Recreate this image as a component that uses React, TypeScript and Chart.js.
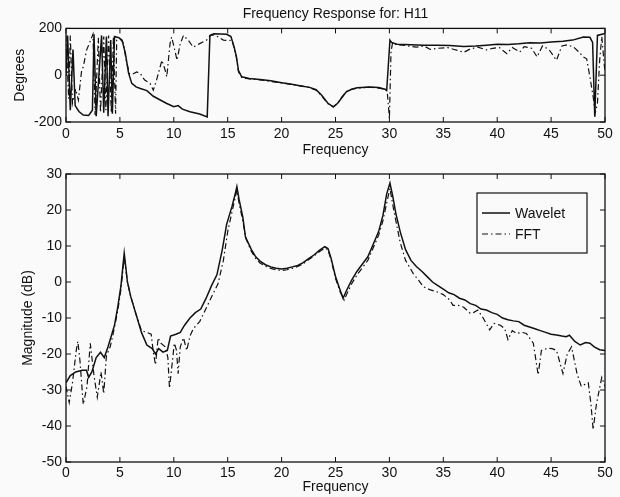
import React, { useEffect, useRef } from "react";
import { Chart, registerables } from "chart.js";

Chart.register(...registerables);

// ---------- data ----------
const chartTitle = "Frequency Response for: H11";
const xLabel = "Frequency";
const phaseLabel = "Degrees";
const magLabel = "Magnitude (dB)";
const seriesNames = ["Wavelet", "FFT"];

const freqRange = [0, 50];
const freqStep = 5;
const phaseRange = [-200, 200];
const phaseStep = 200;
const magRange = [-50, 30];
const magStep = 10;

// [frequency, dB]
const waveletMag: [number, number][] = [
  [0, -28], [0.4, -26], [0.9, -25], [1.5, -24.5], [1.9, -24.5], [2.1, -26.5], [2.4, -25],
  [2.8, -21], [3.2, -19.5], [3.55, -21], [3.9, -18], [4.2, -15], [4.5, -12], [4.8, -7],
  [5.1, -1], [5.4, 8], [5.7, 0], [6.0, -4], [6.5, -9], [7.0, -14], [7.5, -17.5], [8.0, -18.5],
  [8.3, -20], [8.6, -18.5], [9.0, -19.5], [9.4, -19], [9.7, -15], [10.2, -14.5], [10.6, -14],
  [11.0, -12], [11.5, -10], [12.0, -8.5], [12.5, -7.5], [13.0, -4.5], [13.5, -1], [14.0, 2],
  [14.5, 9], [14.9, 16], [15.4, 21], [15.7, 24.5], [15.85, 26.5], [16.05, 23], [16.4, 18],
  [16.65, 12.5], [17.2, 9], [17.6, 7], [18.0, 5.8], [18.5, 4.8], [19.0, 4.2], [19.5, 3.8],
  [20.0, 3.6], [20.5, 3.8], [21.0, 4.2], [21.5, 4.6], [22.0, 5.4], [22.5, 6.5], [23.0, 7.5],
  [23.5, 8.8], [24.0, 9.8], [24.3, 9.3], [24.6, 6.5], [25.0, 1.5], [25.4, -2], [25.7, -4.5],
  [26.0, -2.5], [26.5, 0.5], [27.0, 3], [27.5, 5], [28.0, 7], [28.5, 10.5], [29.0, 14],
  [29.4, 18.5], [29.75, 24.5], [30.05, 27.5], [30.3, 24], [30.6, 19], [31.0, 14], [31.5, 9],
  [32.0, 6], [32.5, 4.3], [33.0, 3], [33.5, 1.5], [34.0, 0], [34.5, -1], [35.0, -2],
  [35.5, -3], [36.0, -3.5], [36.5, -4.5], [37.0, -5], [37.5, -6], [38.0, -6.5], [38.5, -7.5],
  [39.0, -7.8], [39.5, -8.5], [40.0, -9], [40.5, -10], [41.0, -10.5], [41.5, -10.8],
  [42.0, -11], [42.5, -12], [43.0, -12.5], [43.5, -13], [44.0, -13.5], [44.5, -14],
  [45.0, -14.5], [45.5, -14.7], [46.0, -15], [46.4, -15.2], [46.7, -14.8], [47.2, -16.5],
  [47.7, -17.5], [48.2, -16.8], [48.6, -17], [49.0, -18], [49.5, -18.8], [50.0, -19],
];

const fftMag: [number, number][] = [
  [0, -29], [0.3, -33.5], [0.6, -28], [0.95, -19], [1.1, -16.5], [1.3, -22], [1.6, -34],
  [1.95, -29], [2.25, -17], [2.6, -26], [2.9, -32], [3.25, -25], [3.5, -31], [3.75, -20.5],
  [4.1, -18], [4.4, -14], [4.8, -8], [5.1, -2], [5.4, 7], [5.7, 0], [6.0, -4], [6.5, -9],
  [7.0, -13.5], [7.5, -14], [7.9, -14.5], [8.1, -19.5], [8.3, -23], [8.55, -15.5],
  [8.8, -17], [9.2, -18], [9.45, -21], [9.6, -29.5], [9.8, -24], [10.05, -17], [10.25, -19],
  [10.4, -25.5], [10.6, -18], [10.9, -15.5], [11.2, -19], [11.5, -15], [11.8, -13],
  [12.4, -11], [13.05, -7], [13.6, -3.5], [14.1, -0.5], [14.6, 6], [15.0, 14], [15.4, 19.5],
  [15.7, 23.5], [15.85, 25.5], [16.05, 22], [16.4, 17], [16.7, 12], [17.2, 8.5], [17.6, 6.5],
  [18.0, 5.3], [18.5, 4.4], [19.0, 3.8], [19.5, 3.4], [20.0, 3.2], [20.5, 3.4], [21.0, 3.8],
  [21.5, 4.3], [22.0, 5], [22.5, 6.2], [23.0, 7.2], [23.5, 8.4], [24.0, 9.4], [24.3, 9],
  [24.6, 6], [25.0, 1], [25.4, -2.5], [25.8, -5], [26.1, -3], [26.5, -0.5], [27.0, 2],
  [27.5, 4], [28.0, 6], [28.5, 9.5], [29.0, 13], [29.4, 17], [29.75, 22], [30.05, 26],
  [30.4, 20], [31.0, 11], [31.5, 6], [32.2, 2.4], [32.7, 0.5], [33.15, -1.3], [33.8, -2.2],
  [34.4, -2.7], [35.0, -3.5], [35.6, -5], [35.9, -6.5], [36.4, -6.5], [36.9, -7],
  [37.5, -8.7], [37.8, -8.5], [38.2, -7.8], [38.7, -10], [39.3, -13.3], [39.7, -11.5],
  [40.3, -12], [40.7, -13], [41.0, -16], [41.4, -13.5], [41.8, -14.3], [42.3, -14],
  [42.7, -14.3], [43.35, -17], [43.8, -25.8], [44.1, -19], [44.7, -18.4], [45.1, -18.5],
  [45.5, -19], [46.1, -25.4], [46.5, -20], [46.9, -18], [47.4, -25.4], [47.8, -29],
  [48.1, -28.5], [48.45, -28], [48.7, -34], [48.9, -41], [49.2, -34], [49.4, -31],
  [49.7, -26.5], [50.0, -29],
];

// [frequency, degrees]
const waveletPhase: [number, number][] = [
  [0, 0], [0.15, 170], [0.4, -150], [0.65, 110], [0.85, -130], [1.2, -155], [1.6, -170],
  [2.1, -172], [2.45, -150], [2.6, 175], [2.8, -175], [3.3, 170], [3.5, -160], [3.75, 165],
  [3.9, -175], [4.15, 150], [4.3, -165], [4.5, 165], [4.9, 160], [5.2, 150], [5.5, 95],
  [5.8, 10], [6.1, -35], [6.5, -50], [6.9, -57], [7.5, -66], [8.1, -90], [8.7, -105],
  [9.3, -120], [10.0, -135], [10.4, -130], [10.8, -145], [11.5, -156], [12.4, -166],
  [13.1, -178], [13.35, 170], [13.7, 177], [14.9, 175], [15.3, 165], [15.6, 120], [15.8, 80],
  [16.0, 20], [16.3, -7], [17.0, -14], [18.0, -18], [19.0, -24], [20.0, -32], [20.8, -38],
  [21.7, -45], [22.6, -52], [23.2, -62], [23.7, -85], [24.3, -120], [24.8, -135],
  [25.2, -120], [25.6, -95], [26.0, -71], [26.5, -60], [27.0, -54], [28.2, -50], [29.0, -53],
  [29.6, -60], [29.75, -65], [30.05, 150], [30.2, 140], [30.7, 132], [32.0, 130], [33.2, 128],
  [34.5, 128], [35.6, 127], [36.9, 123], [38.0, 125], [39.0, 128], [40.0, 132], [41.0, 131],
  [42.0, 134], [43.0, 139], [44.0, 138], [45.0, 142], [46.1, 145], [47.0, 150], [48.0, 163],
  [48.6, 162], [48.85, 140], [49.05, -178], [49.3, 170], [50.0, 178],
];

const fftPhase: [number, number][] = [
  [0, 170], [0.25, -100], [0.4, 170], [0.6, -120], [0.9, -60], [1.15, -106], [1.45, 21],
  [1.6, 35], [1.9, 106], [2.2, 140], [2.5, 175], [2.7, -170], [3.0, 160], [3.2, -160],
  [3.5, 165], [3.7, -150], [3.95, 170], [4.2, -160], [4.4, 165], [4.6, -165], [4.7, 150],
  [5.0, 155], [5.3, 140], [5.6, 60], [5.9, 5], [6.2, 5], [6.56, 14], [6.9, 7], [7.3, -21],
  [7.8, -35], [8.1, -64], [8.4, -21], [8.9, 64], [9.2, 21], [9.35, -7], [9.65, 135],
  [9.8, 163], [10.1, 106], [10.3, 64], [10.6, 135], [10.9, 170], [11.35, 149], [11.8, 120],
  [12.4, 135], [13.05, 150], [13.4, 170], [13.8, 172], [14.6, 150], [15.1, 148], [15.4, 150],
  [15.6, 115], [15.8, 80], [16.0, 15], [16.3, -10], [17.0, -16], [18.0, -20], [19.0, -27],
  [20.0, -33], [21.0, -40], [22.0, -48], [22.6, -53], [23.2, -64], [23.7, -88], [24.3, -122],
  [24.8, -136], [25.2, -120], [25.6, -93], [26.0, -70], [26.5, -60], [27.0, -56], [28.2, -51],
  [29.0, -55], [29.6, -60], [29.8, -70], [30.0, -185], [30.15, 100], [30.3, 140], [30.7, 130],
  [31.5, 127], [32.5, 120], [33.2, 125], [33.8, 110], [34.5, 115], [35.4, 118], [36.0, 110],
  [36.9, 98], [37.5, 112], [38.2, 120], [39.0, 108], [39.6, 115], [40.2, 118], [40.9, 92],
  [41.4, 118], [42.1, 99], [42.5, 122], [43.2, 115], [43.7, 78], [44.2, 125], [44.8, 110],
  [45.5, 64], [46.0, 125], [46.5, 130], [47.1, 120], [47.6, 98], [48.0, 78], [48.3, 70],
  [48.6, -7], [48.9, -92], [49.1, -160], [49.3, -120], [49.5, 60], [49.7, 165], [50.0, 10],
];

// ---------- styling ----------
const FONT = "'Liberation Sans', Arial, Helvetica, sans-serif";
const INK = "#111";
const FFT_DASH = [6, 3, 1.5, 3];

const toPoints = (arr: [number, number][]) => arr.map(([x, y]) => ({ x, y }));

const framePlugin = {
  id: "matlabFrame",
  afterDatasetsDraw(chart: any) {
    const { ctx, chartArea, scales } = chart;
    const { left, right, top, bottom } = chartArea;
    const len = 5;
    ctx.save();
    ctx.strokeStyle = INK;
    ctx.lineWidth = 1.3;
    ctx.strokeRect(left, top, right - left, bottom - top);
    ctx.lineWidth = 1;
    ctx.beginPath();
    scales.x.ticks.forEach((t: any) => {
      const px = scales.x.getPixelForValue(t.value);
      ctx.moveTo(px, bottom);
      ctx.lineTo(px, bottom - len);
      ctx.moveTo(px, top);
      ctx.lineTo(px, top + len);
    });
    scales.y.ticks.forEach((t: any) => {
      const py = scales.y.getPixelForValue(t.value);
      ctx.moveTo(left, py);
      ctx.lineTo(left + len, py);
      ctx.moveTo(right, py);
      ctx.lineTo(right - len, py);
    });
    ctx.stroke();
    ctx.restore();
  },
};

const boxLegendPlugin = {
  id: "boxLegend",
  afterDraw(chart: any) {
    const { ctx, chartArea } = chart;
    const bx = chartArea.right - 128;
    const by = chartArea.top + 19;
    const bw = 110;
    const bh = 60;
    ctx.save();
    ctx.fillStyle = "#fafafa";
    ctx.fillRect(bx, by, bw, bh);
    ctx.strokeStyle = INK;
    ctx.lineWidth = 1.2;
    ctx.strokeRect(bx, by, bw, bh);
    ctx.font = `14px ${FONT}`;
    ctx.fillStyle = INK;
    ctx.textBaseline = "middle";
    chart.data.datasets.forEach((ds: any, i: number) => {
      const y = by + 20 + i * 21;
      ctx.beginPath();
      ctx.setLineDash(ds.borderDash || []);
      ctx.lineWidth = ds.borderWidth;
      ctx.moveTo(bx + 5, y);
      ctx.lineTo(bx + 33, y);
      ctx.stroke();
      ctx.setLineDash([]);
      ctx.fillText(ds.label, bx + 38, y + 1);
    });
    ctx.restore();
  },
};

function makeDatasets(w: [number, number][], f: [number, number][]) {
  return [
    {
      label: seriesNames[0],
      data: toPoints(w),
      borderColor: INK,
      borderWidth: 1.5,
      pointRadius: 0,
      tension: 0,
      fill: false,
    },
    {
      label: seriesNames[1],
      data: toPoints(f),
      borderColor: INK,
      borderWidth: 1.2,
      borderDash: FFT_DASH,
      pointRadius: 0,
      tension: 0,
      fill: false,
    },
  ];
}

function xScale(height: number, tickPad: number, titlePad: number) {
  return {
    type: "linear" as const,
    min: freqRange[0],
    max: freqRange[1],
    grid: { display: false, drawTicks: false },
    border: { display: false },
    ticks: {
      stepSize: freqStep,
      padding: tickPad,
      color: INK,
      font: { size: 14, family: FONT },
      maxRotation: 0,
      autoSkip: false,
    },
    title: {
      display: true,
      text: xLabel,
      color: INK,
      font: { size: 14, family: FONT },
      padding: { top: 0, bottom: titlePad },
    },
    afterFit: (s: any) => {
      s.height = height;
    },
  };
}

function yScale(range: number[], step: number, label: string, titlePad: number) {
  return {
    type: "linear" as const,
    min: range[0],
    max: range[1],
    grid: { display: false, drawTicks: false },
    border: { display: false },
    ticks: {
      stepSize: step,
      padding: 4,
      color: INK,
      font: { size: 14, family: FONT },
    },
    title: {
      display: true,
      text: label,
      color: INK,
      font: { size: 14, family: FONT },
      padding: { top: titlePad, bottom: 0 },
    },
    afterFit: (s: any) => {
      s.width = 66;
    },
  };
}

export default function App() {
  const topRef = useRef<HTMLCanvasElement | null>(null);
  const botRef = useRef<HTMLCanvasElement | null>(null);

  useEffect(() => {
    Chart.defaults.font.family = FONT;
    const top = new Chart(topRef.current as HTMLCanvasElement, {
      type: "line",
      data: { datasets: makeDatasets(waveletPhase, fftPhase) as any },
      options: {
        animation: false,
        responsive: false,
        events: [],
        layout: { padding: { left: 0, right: 15, top: 0, bottom: 0 } },
        plugins: {
          legend: { display: false },
          tooltip: { enabled: false },
          title: {
            display: true,
            text: chartTitle,
            color: INK,
            font: { size: 14, weight: "normal", family: FONT },
            padding: { top: 6, bottom: 5.6 },
            fullSize: false,
          } as any,
        },
        scales: {
          x: xScale(38, 4, 1.6) as any,
          y: yScale(phaseRange, phaseStep, phaseLabel, 11.6) as any,
        },
      },
      plugins: [framePlugin],
    });

    const bot = new Chart(botRef.current as HTMLCanvasElement, {
      type: "line",
      data: { datasets: makeDatasets(waveletMag, fftMag) as any },
      options: {
        animation: false,
        responsive: false,
        events: [],
        layout: { padding: { left: 0, right: 15, top: 14, bottom: 0 } },
        plugins: {
          legend: { display: false },
          tooltip: { enabled: false },
        },
        scales: {
          x: xScale(35, 3, 1) as any,
          y: yScale(magRange, magStep, magLabel, 19.6) as any,
        },
      },
      plugins: [framePlugin, boxLegendPlugin],
    });

    return () => {
      top.destroy();
      bot.destroy();
    };
  }, []);

  return (
    <div
      style={{
        position: "absolute",
        left: 0,
        top: 0,
        width: 620,
        height: 497,
        background: "#fafafa",
        overflow: "hidden",
      }}
    >
      <canvas
        ref={topRef}
        width={620}
        height={160}
        style={{ position: "absolute", left: 0, top: 0, width: 620, height: 160 }}
      />
      <canvas
        ref={botRef}
        width={620}
        height={337}
        style={{ position: "absolute", left: 0, top: 160, width: 620, height: 337 }}
      />
    </div>
  );
}
